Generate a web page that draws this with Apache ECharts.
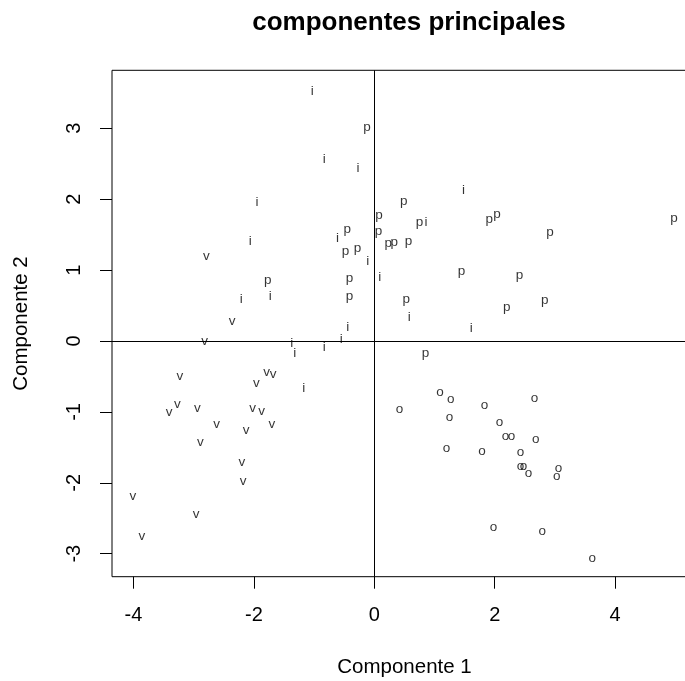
<!DOCTYPE html>
<html>
<head>
<meta charset="utf-8">
<script src="https://cdn.jsdelivr.net/npm/echarts@6/dist/echarts.min.js"></script>
<style>html,body{margin:0;padding:0;background:#fff}#c{width:685px;height:681px}</style>
</head>
<body>
<div id="c"></div>
<script>
// Component scores, one group per label letter
const pX = [-0.12, 0.08, 0.07, 0.23, 0.33, -0.45, -0.48, -0.28, -1.77, -0.41, -0.41, 0.49, 0.75, 1.91, 2.04, 4.98, 2.92, 0.57, 1.45, 2.41, 0.53, 2.20, 2.83, 0.85];
const pY = [3.01, 1.78, 1.55, 1.38, 1.39, 1.58, 1.27, 1.31, 0.86, 0.88, 0.63, 1.97, 1.68, 1.72, 1.79, 1.73, 1.53, 1.41, 0.98, 0.93, 0.59, 0.48, 0.58, -0.18];
const iX = [-1.03, -0.83, -0.27, -1.95, -2.06, -0.61, -0.11, -1.73, -2.21, 0.09, -0.44, -0.55, -1.37, -1.32, -0.83, -1.17, 1.48, 0.86, 0.58, 1.61];
const iY = [3.52, 2.57, 2.44, 1.96, 1.41, 1.45, 1.13, 0.63, 0.59, 0.90, 0.20, 0.03, -0.03, -0.18, -0.09, -0.66, 2.13, 1.67, 0.34, 0.18];
const vX = [-2.79, -2.36, -2.82, -3.23, -3.27, -3.41, -2.94, -2.62, -2.89, -4.01, -2.96, -3.86, -2.20, -2.18, -2.13, -2.02, -1.87, -1.70, -1.96, -1.79, -1.68];
const vY = [1.19, 0.28, -0.01, -0.50, -0.89, -1.01, -0.95, -1.18, -1.43, -2.19, -2.45, -2.76, -1.71, -1.98, -1.26, -0.95, -0.99, -1.18, -0.60, -0.44, -0.47];
const oX = [0.42, 1.09, 1.27, 1.25, 1.20, 1.83, 2.08, 2.18, 2.28, 2.66, 2.68, 1.79, 2.43, 2.43, 2.48, 2.56, 3.06, 3.03, 1.98, 2.79, 3.62];
const oY = [-0.96, -0.73, -0.82, -1.08, -1.51, -0.90, -1.15, -1.34, -1.34, -0.81, -1.38, -1.55, -1.57, -1.76, -1.76, -1.87, -1.80, -1.91, -2.63, -2.68, -3.06];
const xTicks = [-4, -2, 0, 2, 4];
const yTicks = [-3, -2, -1, 0, 1, 2, 3];
const titleText = 'componentes principales';
const xName = 'Componente 1';
const yName = 'Componente 2';

const FONT = '"Liberation Sans", Arial, sans-serif';
const groups = [['p', pX, pY], ['i', iX, iY], ['v', vX, vY], ['o', oX, oY]];

const chart = echarts.init(document.getElementById('c'), null, {renderer: 'canvas'});
const series = groups.map(([ch, xs, ys]) => ({
  type: 'scatter',
  name: ch,
  symbol: 'circle',
  symbolSize: 2,
  itemStyle: {color: 'rgba(0,0,0,0)'},
  silent: true,
  label: {
    show: true, position: 'inside', formatter: ch,
    color: '#000', fontFamily: FONT, fontSize: 13.5
  },
  labelLayout: {hideOverlap: false},
  data: xs.map((x, k) => [x, ys[k]])
}));
series.push({
  type: 'line', data: [], silent: true,
  markLine: {
    silent: true, symbol: 'none', animation: false,
    label: {show: false},
    lineStyle: {color: '#000', width: 1, type: 'solid'},
    data: [{xAxis: 0}, {yAxis: 0}]
  }
});

const axisFont = {fontFamily: FONT, fontSize: 20, color: '#000'};
chart.setOption({
  animation: false,
  title: {
    text: titleText, left: 404, top: 5, textAlign: 'center',
    textStyle: {fontFamily: FONT, fontWeight: 'bold', fontSize: 26, color: '#000'}
  },
  grid: {
    left: 112, top: 70.3, width: 585, height: 506.4,
    outerBoundsMode: 'none', containLabel: false,
    show: true, borderColor: '#000', borderWidth: 1, backgroundColor: 'transparent'
  },
  xAxis: {
    type: 'value', min: -4.357, max: 5.36, position: 'bottom',
    name: xName, nameLocation: 'middle', nameGap: 80,
    nameTextStyle: Object.assign({}, axisFont, {fontSize: 20.5}),
    axisLine: {show: false, onZero: false},
    splitLine: {show: false},
    axisTick: {show: true, length: 12, inside: false, customValues: xTicks, lineStyle: {color: '#000'}},
    axisLabel: Object.assign({customValues: xTicks, margin: 29}, axisFont)
  },
  yAxis: {
    type: 'value', min: -3.324, max: 3.818, position: 'left',
    name: yName, nameLocation: 'middle', nameGap: 80, nameRotate: 90,
    nameTextStyle: Object.assign({}, axisFont, {fontSize: 20.5}),
    axisLine: {show: false, onZero: false},
    splitLine: {show: false},
    axisTick: {show: true, length: 12, inside: false, customValues: yTicks, lineStyle: {color: '#000'}},
    axisLabel: Object.assign({customValues: yTicks, rotate: 90, margin: 28}, axisFont)
  },
  series: series
});
</script>
</body>
</html>
